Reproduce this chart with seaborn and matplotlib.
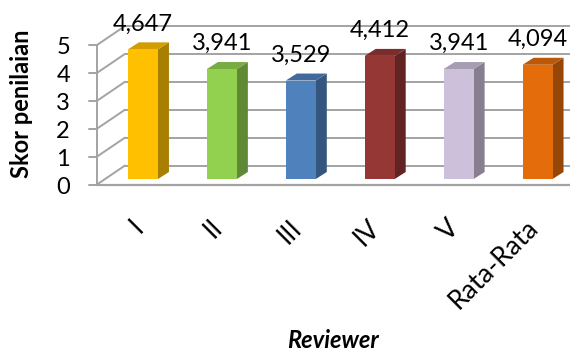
import matplotlib
matplotlib.use("Agg")
import matplotlib.pyplot as plt
from matplotlib.patches import Polygon
import numpy as np
import pandas as pd
import seaborn as sns

reviewers = ["I", "II", "III", "IV", "V", "Rata-Rata"]
scores = [4.647, 3.941, 3.529, 4.412, 3.941, 4.094]
score_labels = ["4,647", "3,941", "3,529", "4,412", "3,941", "4,094"]
bar_colors = ["#FFC000", "#92D050", "#4F81BD", "#953735", "#CCC0DA", "#E46C0A"]
y_ticks = [0, 1, 2, 3, 4, 5]

sns.set_theme(style="white")
plt.rcParams["font.family"] = ["Lato", "DejaVu Sans"]

W, H = 570, 353
fig = plt.figure(figsize=(W / 100, H / 100), dpi=100)
fig.patch.set_facecolor("white")
ax = fig.add_axes([103.5 / W, (H - 179) / H, 473.5 / W, 139.5 / H])

df = pd.DataFrame({"Reviewer": reviewers, "Skor": scores})
sns.barplot(data=df, x="Reviewer", y="Skor", hue="Reviewer", palette=bar_colors,
            width=0.38, saturation=1, legend=False, ax=ax, zorder=3, linewidth=0)
ax.set_xlim(-0.5, 5.5)
ax.set_ylim(0, 5)
ax.axis("off")

FS = 17
GRID = "#a3a3a3"
FRONT = (-6.5, -5.5)   # pixel offset of the front edge of the floor/side wall
BACK = (21.5, 13.5)    # pixel offset of the back wall
DEPTH = (11, 7)        # pixel depth of each column


def shift(x, y, dx, dy):
    px = ax.transData.transform((x, y)) + np.array([dx, dy])
    return ax.transData.inverted().transform(px)


def shade(c, f):
    rgb = np.array(matplotlib.colors.to_rgb(c))
    return tuple(rgb * f)


# walls and gridlines
for t in y_ticks:
    b0 = shift(-0.5, t, *BACK)
    b1 = shift(5.8, t, *BACK)
    f0 = shift(-0.5, t, *FRONT)
    ax.plot([b0[0], b1[0]], [b0[1], b1[1]], color=GRID, lw=1.4, zorder=0.5, clip_on=False)
    ax.plot([f0[0], b0[0]], [f0[1], b0[1]], color=GRID, lw=1.4, zorder=0.5, clip_on=False)
    tk = shift(-0.5, t, FRONT[0] - 8, FRONT[1])
    ax.plot([tk[0], f0[0]], [tk[1], f0[1]], color=GRID, lw=1.4, zorder=0.5, clip_on=False)
    ax.annotate(str(t), (f0[0], f0[1]), xytext=(-27, -3), textcoords="offset pixels",
                ha="right", va="center", fontsize=FS, color="black", annotation_clip=False)

fa0 = shift(-0.5, 0, *FRONT)
fa1 = shift(-0.5, 5, *FRONT)
fr1 = shift(5.8, 0, *FRONT)
ax.plot([fa0[0], fa1[0]], [fa0[1], fa1[1]], color=GRID, lw=1.4, zorder=0.6, clip_on=False)
ax.plot([fa0[0], fr1[0]], [fa0[1], fr1[1]], color=GRID, lw=1.6, zorder=0.6, clip_on=False)

# side and top faces of the columns
for patch, col in zip(ax.patches, bar_colors):
    x0, y0 = patch.get_x(), patch.get_y()
    x1, y1 = x0 + patch.get_width(), y0 + patch.get_height()
    side = [(x1, y0), (x1, y1), tuple(shift(x1, y1, *DEPTH)), tuple(shift(x1, y0, *DEPTH))]
    top = [(x0, y1), (x1, y1), tuple(shift(x1, y1, *DEPTH)), tuple(shift(x0, y1, *DEPTH))]
    ax.add_patch(Polygon(side, closed=True, facecolor=shade(col, 0.66), edgecolor="none",
                         zorder=2.9, clip_on=False))
    ax.add_patch(Polygon(top, closed=True, facecolor=shade(col, 0.82), edgecolor="none",
                         zorder=2.9, clip_on=False))

# value labels
for i, (v, lab) in enumerate(zip(scores, score_labels)):
    ax.annotate(lab, (i, v), xytext=(0, 19), textcoords="offset pixels",
                ha="center", va="baseline", fontsize=FS, color="black", annotation_clip=False)

# category labels
for i, name in enumerate(reviewers):
    ax.annotate(name, (i, 0), xytext=(-12, -36), textcoords="offset pixels",
                ha="right", va="top", rotation=45, rotation_mode="anchor",
                fontsize=19, color="black", annotation_clip=False)

fig.text(22 / W, 1 - 104 / H, "Skor penilaian", rotation=90, ha="center", va="center",
         fontsize=FS, fontweight="bold", color="black")
fig.text(333 / W, 1 - 348 / H, "Reviewer", ha="center", va="baseline",
         fontsize=FS, fontweight="bold", fontstyle="italic", color="black")

fig.savefig("out.png", dpi=100, facecolor="white")
